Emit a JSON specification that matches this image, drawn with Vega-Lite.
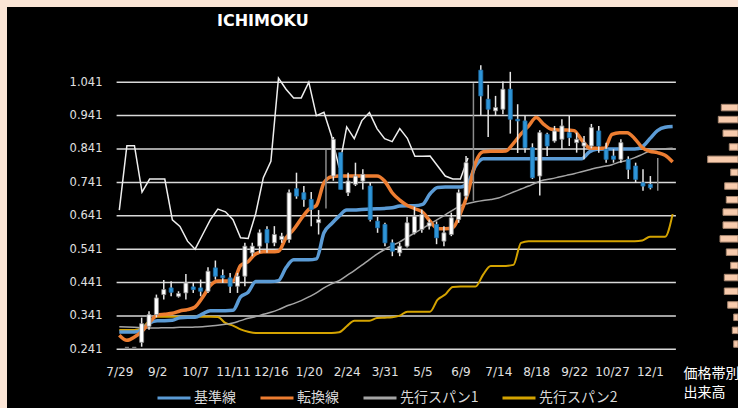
{
"$schema":"https://vega.github.io/schema/vega-lite/v6.json",
"width":731,"height":401,
"autosize":{"type":"none"},
"padding":{"left":7,"top":7,"right":0,"bottom":0},
"background":"#fbe5d6",
"title":{"text":"ICHIMOKU","anchor":"start","frame":"group","dx":210,"offset":-22,"fontSize":16,"font":"DejaVu Sans","fontWeight":"bold","color":"#ffffff"},
"datasets":{
"grid":[{"g":0.241,"a":"2013-07-26T12:00:00Z","b":"2014-12-25T00:00:00Z"},{"g":0.341,"a":"2013-07-26T12:00:00Z","b":"2014-12-25T00:00:00Z"},{"g":0.441,"a":"2013-07-26T12:00:00Z","b":"2014-12-25T00:00:00Z"},{"g":0.541,"a":"2013-07-26T12:00:00Z","b":"2014-12-25T00:00:00Z"},{"g":0.641,"a":"2013-07-26T12:00:00Z","b":"2014-12-25T00:00:00Z"},{"g":0.741,"a":"2013-07-26T12:00:00Z","b":"2014-12-25T00:00:00Z"},{"g":0.841,"a":"2013-07-26T12:00:00Z","b":"2014-12-25T00:00:00Z"},{"g":0.941,"a":"2013-07-26T12:00:00Z","b":"2014-12-25T00:00:00Z"},{"g":1.041,"a":"2013-07-26T12:00:00Z","b":"2014-12-25T00:00:00Z"}],
"vol":[{"p":0.965,"v":167},{"p":0.929,"v":197},{"p":0.888,"v":150},{"p":0.847,"v":87},{"p":0.810,"v":303},{"p":0.771,"v":73},{"p":0.730,"v":133},{"p":0.689,"v":117},{"p":0.652,"v":150},{"p":0.613,"v":150},{"p":0.572,"v":180},{"p":0.532,"v":117},{"p":0.492,"v":73},{"p":0.456,"v":137},{"p":0.415,"v":137},{"p":0.374,"v":103},{"p":0.337,"v":43},{"p":0.298,"v":57},{"p":0.257,"v":43}],
"w":[
{"d":"2013-07-29","o":0.247,"h":0.247,"l":0.247,"c":0.247,"kj":0.293,"tk":0.283,"sa":0.309,"sb":0.299,"ck":0.658},
{"d":"2013-08-05","o":0.247,"h":0.247,"l":0.247,"c":0.247,"kj":0.293,"tk":0.268,"sa":0.308,"sb":0.299,"ck":0.851},
{"d":"2013-08-12","o":0.262,"h":0.336,"l":0.249,"c":0.318,"kj":0.293,"tk":0.278,"sa":0.307,"sb":0.299,"ck":0.851},
{"d":"2013-08-19","o":0.31,"h":0.355,"l":0.30,"c":0.345,"kj":0.300,"tk":0.295,"sa":0.306,"sb":0.305,"ck":0.712},
{"d":"2013-08-26","o":0.345,"h":0.405,"l":0.337,"c":0.395,"kj":0.320,"tk":0.322,"sa":0.305,"sb":0.328,"ck":0.751},
{"d":"2013-09-02","o":0.405,"h":0.449,"l":0.39,"c":0.42,"kj":0.327,"tk":0.343,"sa":0.305,"sb":0.339,"ck":0.751},
{"d":"2013-09-09","o":0.425,"h":0.445,"l":0.40,"c":0.412,"kj":0.327,"tk":0.346,"sa":0.306,"sb":0.339,"ck":0.751},
{"d":"2013-09-16","o":0.40,"h":0.415,"l":0.396,"c":0.408,"kj":0.328,"tk":0.349,"sa":0.306,"sb":0.339,"ck":0.629},
{"d":"2013-09-23","o":0.41,"h":0.467,"l":0.39,"c":0.44,"kj":0.336,"tk":0.356,"sa":0.307,"sb":0.339,"ck":0.609},
{"d":"2013-09-30","o":0.428,"h":0.44,"l":0.41,"c":0.42,"kj":0.337,"tk":0.360,"sa":0.307,"sb":0.339,"ck":0.565},
{"d":"2013-10-07","o":0.425,"h":0.45,"l":0.40,"c":0.415,"kj":0.337,"tk":0.368,"sa":0.308,"sb":0.339,"ck":0.541},
{"d":"2013-10-14","o":0.415,"h":0.487,"l":0.41,"c":0.475,"kj":0.347,"tk":0.397,"sa":0.309,"sb":0.339,"ck":0.585},
{"d":"2013-10-21","o":0.485,"h":0.507,"l":0.45,"c":0.46,"kj":0.357,"tk":0.432,"sa":0.311,"sb":0.339,"ck":0.629},
{"d":"2013-10-28","o":0.462,"h":0.48,"l":0.44,"c":0.455,"kj":0.357,"tk":0.446,"sa":0.313,"sb":0.338,"ck":0.661},
{"d":"2013-11-04","o":0.455,"h":0.47,"l":0.41,"c":0.43,"kj":0.357,"tk":0.446,"sa":0.316,"sb":0.320,"ck":0.653},
{"d":"2013-11-11","o":0.43,"h":0.47,"l":0.41,"c":0.46,"kj":0.358,"tk":0.446,"sa":0.320,"sb":0.312,"ck":0.629},
{"d":"2013-11-18","o":0.46,"h":0.56,"l":0.43,"c":0.55,"kj":0.398,"tk":0.492,"sa":0.327,"sb":0.301,"ck":0.575},
{"d":"2013-11-25","o":0.53,"h":0.56,"l":0.52,"c":0.55,"kj":0.412,"tk":0.504,"sa":0.334,"sb":0.294,"ck":0.573},
{"d":"2013-12-02","o":0.55,"h":0.60,"l":0.53,"c":0.59,"kj":0.444,"tk":0.527,"sa":0.339,"sb":0.290,"ck":0.648},
{"d":"2013-12-09","o":0.60,"h":0.61,"l":0.53,"c":0.56,"kj":0.444,"tk":0.533,"sa":0.346,"sb":0.290,"ck":0.755},
{"d":"2013-12-16","o":0.56,"h":0.61,"l":0.55,"c":0.585,"kj":0.444,"tk":0.533,"sa":0.352,"sb":0.290,"ck":0.804},
{"d":"2013-12-23","o":0.57,"h":0.59,"l":0.56,"c":0.58,"kj":0.447,"tk":0.535,"sa":0.360,"sb":0.290,"ck":1.053},
{"d":"2013-12-30","o":0.57,"h":0.72,"l":0.56,"c":0.71,"kj":0.486,"tk":0.575,"sa":0.370,"sb":0.290,"ck":1.02},
{"d":"2014-01-06","o":0.722,"h":0.77,"l":0.692,"c":0.70,"kj":0.509,"tk":0.600,"sa":0.378,"sb":0.290,"ck":0.994},
{"d":"2014-01-13","o":0.71,"h":0.73,"l":0.668,"c":0.69,"kj":0.509,"tk":0.632,"sa":0.387,"sb":0.290,"ck":0.994},
{"d":"2014-01-20","o":0.69,"h":0.712,"l":0.61,"c":0.66,"kj":0.509,"tk":0.660,"sa":0.398,"sb":0.290,"ck":1.041},
{"d":"2014-01-27","o":0.62,"h":0.658,"l":0.585,"c":0.63,"kj":0.512,"tk":0.672,"sa":0.410,"sb":0.290,"ck":0.941},
{"d":"2014-02-03","h":0.838,"l":0.663,"kj":0.590,"tk":0.740,"sa":0.425,"sb":0.290,"ck":0.951},
{"d":"2014-02-10","o":0.76,"h":0.877,"l":0.746,"c":0.87,"kj":0.617,"tk":0.758,"sa":0.437,"sb":0.290,"ck":0.88},
{"d":"2014-02-17","o":0.83,"h":0.83,"l":0.72,"c":0.72,"kj":0.640,"tk":0.760,"sa":0.447,"sb":0.292,"ck":0.785},
{"d":"2014-02-24","o":0.71,"h":0.77,"l":0.70,"c":0.745,"kj":0.658,"tk":0.760,"sa":0.462,"sb":0.31,"ck":0.907},
{"d":"2014-03-03","o":0.735,"h":0.80,"l":0.73,"c":0.76,"kj":0.658,"tk":0.760,"sa":0.477,"sb":0.327,"ck":0.872},
{"d":"2014-03-10","o":0.745,"h":0.78,"l":0.72,"c":0.765,"kj":0.660,"tk":0.760,"sa":0.493,"sb":0.327,"ck":0.926},
{"d":"2014-03-17","o":0.73,"h":0.741,"l":0.624,"c":0.63,"kj":0.661,"tk":0.760,"sa":0.510,"sb":0.327,"ck":0.95},
{"d":"2014-03-24","o":0.625,"h":0.638,"l":0.59,"c":0.605,"kj":0.662,"tk":0.760,"sa":0.526,"sb":0.335,"ck":0.902},
{"d":"2014-03-31","o":0.615,"h":0.62,"l":0.55,"c":0.56,"kj":0.663,"tk":0.745,"sa":0.540,"sb":0.336,"ck":0.872},
{"d":"2014-04-07","o":0.56,"h":0.57,"l":0.52,"c":0.535,"kj":0.665,"tk":0.710,"sa":0.552,"sb":0.337,"ck":0.863},
{"d":"2014-04-14","o":0.53,"h":0.56,"l":0.52,"c":0.55,"kj":0.670,"tk":0.688,"sa":0.563,"sb":0.342,"ck":0.902},
{"d":"2014-04-21","o":0.55,"h":0.638,"l":0.546,"c":0.62,"kj":0.671,"tk":0.672,"sa":0.577,"sb":0.354,"ck":0.873},
{"d":"2014-04-28","o":0.59,"h":0.668,"l":0.585,"c":0.64,"kj":0.671,"tk":0.662,"sa":0.590,"sb":0.354,"ck":0.819},
{"d":"2014-05-05","o":0.60,"h":0.66,"l":0.59,"c":0.645,"kj":0.675,"tk":0.652,"sa":0.603,"sb":0.354,"ck":0.819},
{"d":"2014-05-12","o":0.61,"h":0.63,"l":0.60,"c":0.62,"kj":0.707,"tk":0.625,"sa":0.617,"sb":0.354,"ck":0.82},
{"d":"2014-05-19","o":0.615,"h":0.624,"l":0.556,"c":0.575,"kj":0.726,"tk":0.602,"sa":0.630,"sb":0.39,"ck":0.79},
{"d":"2014-05-26","o":0.565,"h":0.61,"l":0.55,"c":0.59,"kj":0.727,"tk":0.602,"sa":0.644,"sb":0.405,"ck":0.76},
{"d":"2014-06-02","o":0.585,"h":0.65,"l":0.58,"c":0.635,"kj":0.727,"tk":0.605,"sa":0.658,"sb":0.428,"ck":0.751},
{"d":"2014-06-09","o":0.63,"h":0.72,"l":0.62,"c":0.71,"kj":0.727,"tk":0.648,"sa":0.671,"sb":0.429,"ck":0.751},
{"d":"2014-06-16","o":0.70,"h":0.82,"l":0.69,"c":0.80,"kj":0.74,"tk":0.71,"sa":0.678,"sb":0.429,"ck":0.814},
{"d":"2014-06-23","h":1.038,"l":0.686,"kj":0.79,"tk":0.80,"sa":0.683,"sb":0.429},
{"d":"2014-06-30","o":1.077,"h":1.092,"l":0.941,"c":1.0,"kj":0.812,"tk":0.833,"sa":0.687,"sb":0.465},
{"d":"2014-07-07","o":0.99,"h":1.033,"l":0.877,"c":0.96,"kj":0.812,"tk":0.834,"sa":0.690,"sb":0.491},
{"d":"2014-07-14","o":0.955,"h":1.0,"l":0.94,"c":0.965,"kj":0.812,"tk":0.834,"sa":0.694,"sb":0.491},
{"d":"2014-07-21","o":0.96,"h":1.043,"l":0.945,"c":1.02,"kj":0.812,"tk":0.835,"sa":0.703,"sb":0.491},
{"d":"2014-07-28","o":1.02,"h":1.072,"l":0.887,"c":0.93,"kj":0.812,"tk":0.858,"sa":0.712,"sb":0.494},
{"d":"2014-08-04","o":0.93,"h":0.975,"l":0.829,"c":0.925,"kj":0.812,"tk":0.886,"sa":0.721,"sb":0.560},
{"d":"2014-08-11","o":0.925,"h":0.94,"l":0.83,"c":0.845,"kj":0.812,"tk":0.91,"sa":0.730,"sb":0.565},
{"d":"2014-08-18","o":0.845,"h":0.858,"l":0.751,"c":0.755,"kj":0.812,"tk":0.935,"sa":0.740,"sb":0.565},
{"d":"2014-08-25","o":0.76,"h":0.897,"l":0.702,"c":0.89,"kj":0.812,"tk":0.915,"sa":0.748,"sb":0.565},
{"d":"2014-09-01","o":0.885,"h":0.89,"l":0.82,"c":0.85,"kj":0.812,"tk":0.900,"sa":0.752,"sb":0.565},
{"d":"2014-09-08","o":0.865,"h":0.91,"l":0.86,"c":0.895,"kj":0.812,"tk":0.898,"sa":0.757,"sb":0.565},
{"d":"2014-09-15","o":0.87,"h":0.93,"l":0.84,"c":0.91,"kj":0.812,"tk":0.898,"sa":0.762,"sb":0.565},
{"d":"2014-09-22","o":0.89,"h":0.94,"l":0.85,"c":0.875,"kj":0.812,"tk":0.896,"sa":0.767,"sb":0.565},
{"d":"2014-09-29","o":0.86,"h":0.89,"l":0.83,"c":0.87,"kj":0.812,"tk":0.868,"sa":0.773,"sb":0.565},
{"d":"2014-10-06","o":0.85,"h":0.88,"l":0.81,"c":0.86,"kj":0.832,"tk":0.845,"sa":0.779,"sb":0.565},
{"d":"2014-10-13","o":0.85,"h":0.916,"l":0.843,"c":0.905,"kj":0.840,"tk":0.843,"sa":0.785,"sb":0.565},
{"d":"2014-10-20","o":0.895,"h":0.91,"l":0.83,"c":0.85,"kj":0.841,"tk":0.843,"sa":0.789,"sb":0.565},
{"d":"2014-10-27","o":0.84,"h":0.86,"l":0.80,"c":0.81,"kj":0.841,"tk":0.885,"sa":0.794,"sb":0.565},
{"d":"2014-11-03","o":0.82,"h":0.84,"l":0.80,"c":0.81,"kj":0.841,"tk":0.89,"sa":0.802,"sb":0.565},
{"d":"2014-11-10","o":0.81,"h":0.87,"l":0.80,"c":0.86,"kj":0.841,"tk":0.89,"sa":0.807,"sb":0.565},
{"d":"2014-11-17","o":0.81,"h":0.819,"l":0.751,"c":0.78,"kj":0.841,"tk":0.872,"sa":0.815,"sb":0.565},
{"d":"2014-11-24","o":0.79,"h":0.80,"l":0.74,"c":0.75,"kj":0.848,"tk":0.845,"sa":0.825,"sb":0.567},
{"d":"2014-12-01","o":0.74,"h":0.78,"l":0.716,"c":0.73,"kj":0.872,"tk":0.834,"sa":0.835,"sb":0.578},
{"d":"2014-12-08","o":0.735,"h":0.76,"l":0.72,"c":0.725,"kj":0.896,"tk":0.830,"sa":0.841,"sb":0.578},
{"d":"2014-12-15","h":0.814,"l":0.716,"kj":0.906,"tk":0.822,"sa":0.842,"sb":0.578},
{"d":"2014-12-22","kj":0.908,"tk":0.802,"sa":0.843,"sb":0.646}
]},
"layer":[
{
"encoding":{"x":{"field":"d","type":"temporal","title":null,"scale":{"type":"utc","domain":[1366095715200,1424421504000]},
"axis":{"orient":"bottom","values":[1375056000000,1378080000000,1381104000000,1384128000000,1387152000000,1390176000000,1393200000000,1396224000000,1399248000000,1402272000000,1405296000000,1408320000000,1411344000000,1414368000000,1417392000000],"labelExpr":"utcFormat(datum.value, '%-m/%-d')","offset":-42,"labelFontSize":12,"labelOverlap":false,"labelFlush":false,"labelBound":false,"labelBaseline":"top"}}},
"layer":[
{"data":{"name":"grid"},"mark":{"type":"rule","color":"#d9d9d9","strokeWidth":1.5},
"encoding":{"x":{"field":"a","type":"temporal"},"x2":{"field":"b"},
"y":{"field":"g","type":"quantitative","title":null,"scale":{"domain":[0.0804,1.2512],"nice":false,"zero":false},"axis":{"values":[0.241,0.341,0.441,0.541,0.641,0.741,0.841,0.941,1.041],"format":".3f","offset":-95,"labelFontSize":11.5,"labelOverlap":false,"labelBound":false,"labelFlush":false}}}},
{"data":{"name":"w"},"mark":{"type":"line","strokeWidth":2,"interpolate":"monotone"},
"encoding":{"y":{"field":"sb","type":"quantitative","title":null,"scale":{"domain":[0.0804,1.2512],"nice":false,"zero":false}},
"color":{"datum":"先行スパン2","type":"nominal","scale":{"domain":["基準線","転換線","先行スパン1","先行スパン2"],"range":["#5b9bd5","#ed7d31","#a5a5a5","#d4a300"]},"legend":{"title":null}}}},
{"data":{"name":"w"},"mark":{"type":"line","strokeWidth":1.5,"interpolate":"monotone"},
"encoding":{"y":{"field":"sa","type":"quantitative","title":null,"scale":{"domain":[0.0804,1.2512],"nice":false,"zero":false}},"color":{"datum":"先行スパン1","type":"nominal"}}},
{"data":{"name":"w"},"mark":{"type":"line","strokeWidth":1.5,"color":"#eeeeee"},
"encoding":{"y":{"field":"ck","type":"quantitative","title":null,"scale":{"domain":[0.0804,1.2512],"nice":false,"zero":false}}}},
{"data":{"name":"w"},"mark":{"type":"line","strokeWidth":3.5,"interpolate":"monotone"},
"encoding":{"y":{"field":"kj","type":"quantitative","title":null,"scale":{"domain":[0.0804,1.2512],"nice":false,"zero":false}},"color":{"datum":"基準線","type":"nominal"}}},
{"data":{"name":"w"},"mark":{"type":"line","strokeWidth":3.5,"interpolate":"monotone"},
"encoding":{"y":{"field":"tk","type":"quantitative","title":null,"scale":{"domain":[0.0804,1.2512],"nice":false,"zero":false}},"color":{"datum":"転換線","type":"nominal"}}}
]},
{
"data":{"name":"w"},
"encoding":{"x":{"field":"d","type":"temporal","title":null,"scale":{"type":"utc","domain":[1365630019200,1424774880000]},"axis":null}},
"layer":[
{"mark":{"type":"rule","strokeWidth":1.5},
"encoding":{"y":{"field":"l","type":"quantitative","title":null,"scale":{"domain":[0.0804,1.2512],"nice":false,"zero":false}},"y2":{"field":"h"},
"stroke":{"condition":{"test":"datum.o == null","value":"#8c8c8c"},"value":"#e6e6e6"}}},
{"mark":{"type":"bar","width":4,"strokeWidth":0.8},
"encoding":{"y":{"field":"o","type":"quantitative","title":null,"scale":{"domain":[0.0804,1.2512],"nice":false,"zero":false}},"y2":{"field":"c"},
"fill":{"condition":{"test":"datum.c < datum.o","value":"#2e95d8"},"value":"#ffffff"},
"stroke":{"condition":{"test":"datum.c < datum.o","value":"#1f6fa8"},"value":"#8c8c8c"}}}
]},
{"data":{"name":"vol"},"mark":{"type":"bar","orient":"horizontal","height":6.5,"fill":"#f8cbad","stroke":"#a6866f","strokeWidth":1},
"encoding":{"y":{"field":"p","type":"quantitative","title":null,"scale":{"domain":[0.0804,1.2512],"nice":false,"zero":false}},
"x":{"field":"v","type":"quantitative","scale":{"domain":[0,7310],"reverse":true,"nice":false,"zero":true},
"axis":{"orient":"bottom","labels":false,"ticks":false,"domain":false,"grid":false,"offset":0,"title":["価格帯別","出来高"],"titleX":676,"titleY":-42,"titleAlign":"left","titleBaseline":"top","titleAngle":0,"titleFont":"Noto Sans CJK JP","titleFontSize":14,"titleFontWeight":"normal","titleColor":"#ffffff","titleLineHeight":19}}}}
],
"resolve":{"scale":{"x":"independent"},"axis":{"x":"independent"}},
"config":{
"view":{"fill":"#000000","stroke":null},
"axis":{"labelFont":"DejaVu Sans","labelFontSize":11,"labelColor":"#e0e0e0","domain":false,"ticks":false,"tickSize":0,"grid":false,"labelPadding":0},
"legend":{"orient":"none","legendX":149,"legendY":373,"direction":"horizontal","symbolType":"stroke","symbolSize":1089,"symbolStrokeWidth":3,"labelFont":"Noto Sans CJK JP","labelFontSize":14,"labelColor":"#d9d9d9","columnPadding":18,"labelOffset":2,"padding":0}
}
}
